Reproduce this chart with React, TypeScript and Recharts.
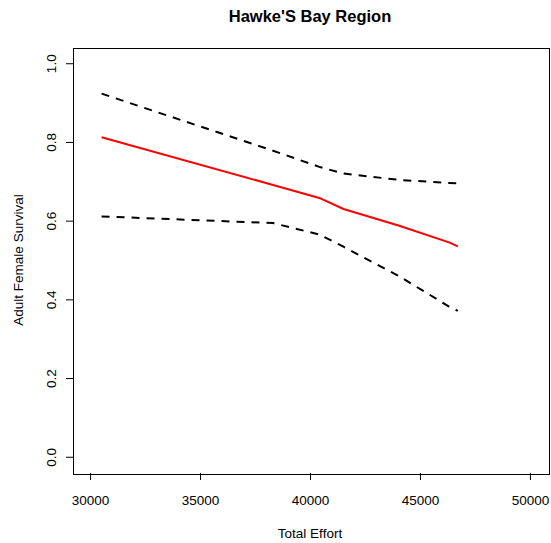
import { LineChart, Line, XAxis, YAxis } from 'recharts';

// Total effort values where the model was evaluated
const effort = [30500, 38300, 40400, 41500, 44000, 46300, 46700];
// Fitted adult female survival and its confidence bounds
const survival = [0.813, 0.692, 0.659, 0.631, 0.589, 0.546, 0.536];
const upper = [0.924, 0.779, 0.738, 0.721, 0.705, 0.697, 0.696];
const lower = [0.612, 0.595, 0.566, 0.535, 0.461, 0.383, 0.372];

const xTicks = [30000, 35000, 40000, 45000, 50000];
const yTicks = [0, 0.2, 0.4, 0.6, 0.8, 1.0];

const FONT = '"Liberation Sans", Arial, Helvetica, sans-serif';

const chartData = effort.map((e, i) => ({
  effort: e,
  survival: survival[i],
  upper: upper[i],
  lower: lower[i],
}));

const XTick = ({ x, payload }: any) => (
  <text x={x} y={500} textAnchor="middle" dominantBaseline="central" fontSize={13.5} fontFamily={FONT} fill="#000">
    {payload.value}
  </text>
);

const YTick = ({ y, payload }: any) => (
  <text
    x={52}
    y={y}
    textAnchor="middle"
    dominantBaseline="central"
    fontSize={13.5}
    fontFamily={FONT}
    fill="#000"
    transform={`rotate(-90, 52, ${y})`}
  >
    {Number(payload.value).toFixed(1)}
  </text>
);

export default function App() {
  return (
    <div style={{ position: 'absolute', left: 0, top: 0, width: 551, height: 543, background: '#fff', fontFamily: FONT }}>
      <LineChart
        width={551}
        height={543}
        data={chartData}
        margin={{ top: 48, right: 3, bottom: 0, left: 0 }}
      >
        <XAxis
          dataKey="effort"
          type="number"
          domain={[29200, 50800]}
          ticks={xTicks}
          axisLine={false}
          tickLine={{ stroke: '#000' }}
          tickSize={7}
          height={70}
          tick={<XTick />}
          interval={0}
        />
        <YAxis
          type="number"
          domain={[-0.04, 1.04]}
          ticks={yTicks}
          axisLine={false}
          tickLine={{ stroke: '#000' }}
          tickSize={7}
          width={73}
          tick={<YTick />}
          interval={0}
        />
        <Line type="linear" dataKey="upper" stroke="#000" strokeWidth={2} strokeDasharray="8 7" dot={false} isAnimationActive={false} />
        <Line type="linear" dataKey="lower" stroke="#000" strokeWidth={2} strokeDasharray="8 7" dot={false} isAnimationActive={false} />
        <Line type="linear" dataKey="survival" stroke="#ff0000" strokeWidth={2} dot={false} isAnimationActive={false} />
      </LineChart>

      {/* plot box */}
      <div style={{ position: 'absolute', left: 72.5, top: 47.5, width: 475, height: 425, border: '1px solid #000', pointerEvents: 'none' }} />

      <div style={{ position: 'absolute', left: 310, top: 16, transform: 'translate(-50%, -50%)', whiteSpace: 'nowrap', fontWeight: 'bold', fontSize: 16.5 }}>
        Hawke'S Bay Region
      </div>
      <div style={{ position: 'absolute', left: 310, top: 533, transform: 'translate(-50%, -50%)', whiteSpace: 'nowrap', fontSize: 13.5 }}>
        Total Effort
      </div>
      <div style={{ position: 'absolute', left: 18, top: 260, transform: 'translate(-50%, -50%) rotate(-90deg)', whiteSpace: 'nowrap', fontSize: 13.5 }}>
        Adult Female Survival
      </div>
    </div>
  );
}
